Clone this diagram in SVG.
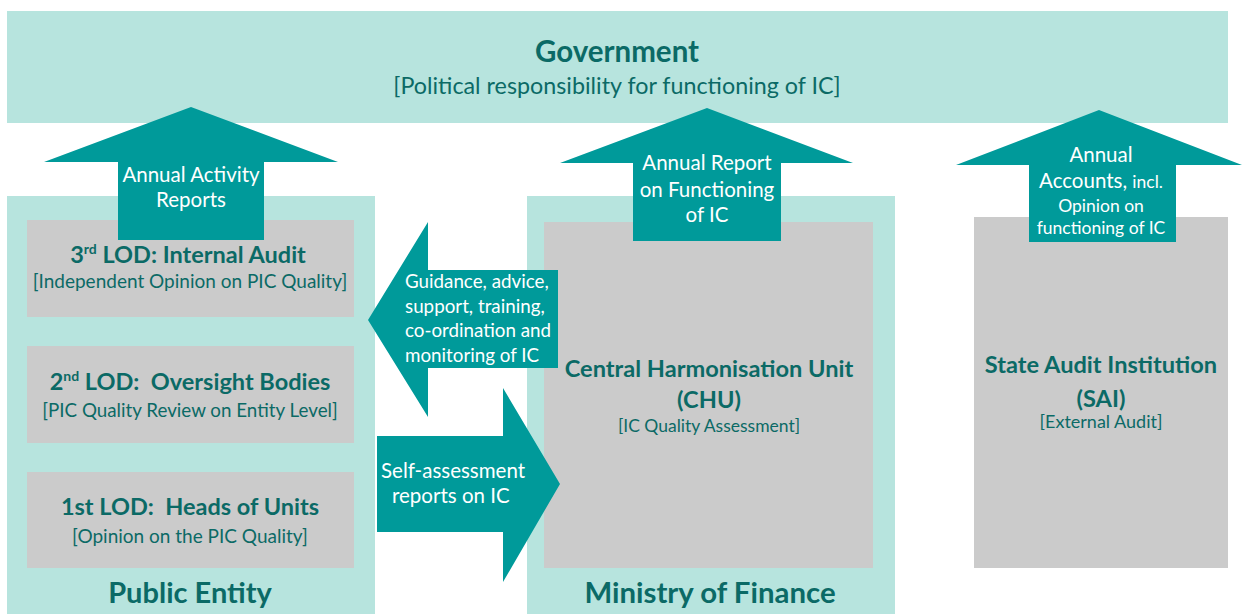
<svg xmlns="http://www.w3.org/2000/svg" width="1242" height="614" viewBox="0 0 1242 614" xml:space="preserve">
<style>
.lt{fill:#b7e4de}
.gr{fill:#cbcbcb}
.ar{fill:#009a9a}
text{font-family:Lato,"Open Sans","Liberation Sans",sans-serif;white-space:pre}
.h{font-weight:bold;fill:#0b6a66;text-anchor:middle}
.s{fill:#0b6a66;text-anchor:middle}
.w{fill:#ffffff;text-anchor:middle;font-size:20.5px}
.ws{fill:#ffffff;text-anchor:middle;font-size:17.5px}
.wl{fill:#ffffff;font-size:18.8px}
.wb{fill:#ffffff;font-size:20.5px}
</style>
<rect width="1242" height="614" fill="#ffffff"/>
<g id="government">
<rect class="lt" x="7" y="11" width="1221" height="112"/>
<text class="h" x="617" y="62" font-size="29.5">Government</text>
<text class="s" x="617" y="94" font-size="23.3">[Political responsibility for functioning of IC]</text>
</g>
<g id="public-entity">
<rect class="lt" x="7" y="196" width="368" height="418"/>
<text class="h" x="190" y="603" font-size="29">Public Entity</text>
</g>
<g id="lod3">
<rect class="gr" x="27" y="220" width="327" height="97"/>
<text class="h" x="188" y="263" font-size="23.5">3<tspan font-size="14" dy="-9">rd</tspan><tspan dy="9"> LOD: Internal Audit</tspan></text>
<text class="s" x="190" y="288" font-size="19">[Independent Opinion on PIC Quality]</text>
</g>
<g id="lod2">
<rect class="gr" x="27" y="346" width="327" height="97"/>
<text class="h" x="190" y="390" font-size="23.5">2<tspan font-size="14" dy="-9">nd</tspan><tspan dy="9"> LOD:  Oversight Bodies</tspan></text>
<text class="s" x="190" y="417" font-size="18.8">[PIC Quality Review on Entity Level]</text>
</g>
<g id="lod1">
<rect class="gr" x="27" y="472" width="327" height="96"/>
<text class="h" x="190" y="515" font-size="23.5">1st LOD:  Heads of Units</text>
<text class="s" x="190" y="543" font-size="19">[Opinion on the PIC Quality]</text>
</g>
<g id="ministry-of-finance">
<rect class="lt" x="527" y="196" width="368" height="418"/>
<text class="h" x="710" y="603" font-size="29.4">Ministry of Finance</text>
</g>
<g id="chu">
<rect class="gr" x="544" y="222" width="329" height="346"/>
<text class="h" x="709" y="377" font-size="23.6">Central Harmonisation Unit</text>
<text class="h" x="709" y="408" font-size="23.6">(CHU)</text>
<text class="s" x="709" y="432" font-size="17.5">[IC Quality Assessment]</text>
</g>
<g id="sai">
<rect class="gr" x="974" y="217" width="254" height="351"/>
<text class="h" x="1101" y="373" font-size="23.6">State Audit Institution</text>
<text class="h" x="1101" y="407" font-size="23.6">(SAI)</text>
<text class="s" x="1101" y="428" font-size="18">[External Audit]</text>
</g>
<g id="connectors">
<g id="arrow-activity-reports">
<polygon class="ar" points="191,107 338,162 264,162 264,240 118,240 118,162 44,162"/>
<text class="w" x="191" y="182">Annual Activity</text>
<text class="w" x="191" y="207">Reports</text>
</g>
<g id="arrow-annual-report">
<polygon class="ar" points="707,108 853,163 781,163 781,241 633,241 633,163 560,163"/>
<text class="w" x="707" y="170">Annual Report</text>
<text class="w" x="707" y="197">on Functioning</text>
<text class="w" x="707" y="222">of IC</text>
</g>
<g id="arrow-annual-accounts">
<polygon class="ar" points="1099,110 1242,165 1176,165 1176,242 1029,242 1029,165 956,165"/>
<text class="w" x="1101" y="162">Annual</text>
<text class="w" x="1101" y="188">Accounts, <tspan font-size="17.5">incl.</tspan></text>
<text class="ws" x="1101" y="212">Opinion on</text>
<text class="ws" x="1101" y="234">functioning of IC</text>
</g>
<g id="arrow-guidance">
<polygon class="ar" points="368,320 428,222 428,270 558,270 558,368 428,368 428,417"/>
<text class="wl" x="405" y="288">Guidance, advice,</text>
<text class="wl" x="405" y="313">support, training,</text>
<text class="wl" x="405" y="337">co-ordination and</text>
<text class="wl" x="405" y="362">monitoring of IC</text>
</g>
<g id="arrow-self-assessment">
<polygon class="ar" points="377,436 503,436 503,388 560,484 503,582 503,532 377,532"/>
<text class="wb" x="381" y="478">Self-assessment</text>
<text class="wb" x="392" y="503">reports on IC</text>
</g>
</g>
</svg>
